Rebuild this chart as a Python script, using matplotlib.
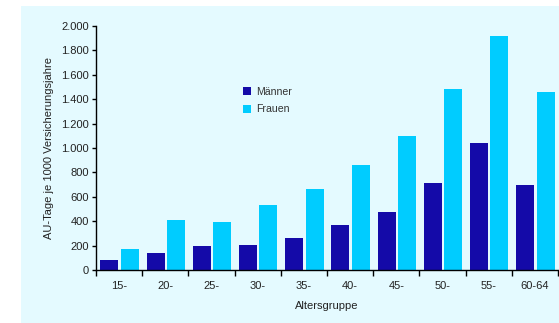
import numpy as np
import matplotlib.pyplot as plt
from matplotlib.patches import Rectangle
from matplotlib.ticker import FuncFormatter

plt.rcParams["font.family"] = ["Liberation Sans", "DejaVu Sans"]

gruppen = ["15-", "20-", "25-", "30-", "35-", "40-", "45-", "50-", "55-", "60-64"]
maenner = [87, 141, 199, 207, 264, 370, 477, 714, 1041, 697]
frauen = [174, 411, 395, 534, 665, 861, 1098, 1482, 1916, 1458]

W, H = 559, 323
fig = plt.figure(figsize=(W / 100, H / 100), dpi=100)
fig.patch.set_facecolor("white")
# light panel behind the chart
fig.patches.append(Rectangle((21 / W, 0), 1 - 21 / W, 1 - 6 / H, transform=fig.transFigure,
                             facecolor="#E4FAFF", edgecolor="none", zorder=-10))

ax = fig.add_axes([96 / W, 1 - 270.3 / H, (558 - 96) / W, (270.3 - 25.7) / H])
ax.set_facecolor("none")
ax.set_zorder(5)

x = np.arange(len(gruppen))
bw = 0.39
ax.bar(x - 0.21, maenner, width=bw, color="#140AA8", label="Männer", zorder=2)
ax.bar(x + 0.23, frauen, width=bw, color="#00CCFF", label="Frauen", zorder=2)

ax.set_xlim(-0.5, len(gruppen) - 0.5)
ax.set_ylim(0, 2000)
ax.set_yticks(np.arange(0, 2001, 200))
ax.yaxis.set_major_formatter(FuncFormatter(lambda v, p: f"{int(v):,}".replace(",", ".")))
ax.set_xticks(x)
ax.set_xticklabels(gruppen)
ax.set_xticks(np.arange(-0.5, len(gruppen)), minor=True)
ax.tick_params(axis="x", which="major", length=0, pad=8, labelsize=8, labelcolor="#222222")
ax.tick_params(axis="x", which="minor", length=4, width=1, direction="out")
ax.tick_params(axis="y", length=3, width=1, labelsize=8, pad=2, labelcolor="#222222")

for s in ["top", "right"]:
    ax.spines[s].set_visible(False)
for s in ["left", "bottom"]:
    ax.spines[s].set_linewidth(1)

ax.set_ylabel("AU-Tage je 1000 Versicherungsjahre", fontsize=8, labelpad=5, color="#222222")
ax.set_xlabel("Altersgruppe", fontsize=8, labelpad=7, color="#222222")

leg = ax.legend(loc="upper left", bbox_to_anchor=(0.297, 0.79), frameon=False, fontsize=7.6,
                handlelength=0.75, handleheight=0.75, handletextpad=0.5, labelspacing=0.75)
for t in leg.get_texts():
    t.set_color("#333333")

fig.savefig("out.png", dpi=100)
